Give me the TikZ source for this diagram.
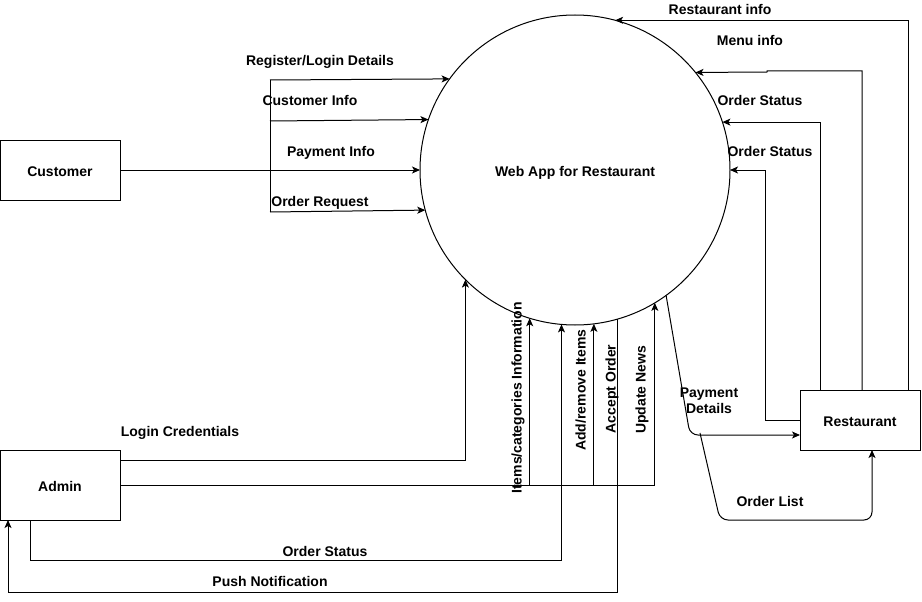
\documentclass[tikz,border=0pt]{standalone}
\usepackage{fontspec}
\setmainfont{Liberation Sans}
\usetikzlibrary{arrows.meta}
\begin{document}
\begin{tikzpicture}[x=1pt,y=-1pt,
  every node/.style={font=\fontsize{14}{16}\selectfont\bfseries,text height=12pt,text depth=0pt},
  entity/.style={draw,line width=1pt,minimum width=120pt,minimum height=60pt,inner sep=0pt,outer sep=0pt},
  proc/.style={draw,line width=1pt,circle,minimum size=310pt,inner sep=0pt,outer sep=0pt},
  flow/.style={line width=1pt,-{Stealth[length=8pt,width=7pt,inset=2pt]}},
  wire/.style={line width=1pt},
  lbl/.style={inner sep=1pt}]
\useasboundingbox (0,0) rectangle (922,602);
\node[proc] (app) at (575,170) {Web App for Restaurant};
\node[entity] (customer) at (60,170) {Customer};
\node[entity,minimum height=70pt] (admin) at (60,485) {Admin};
\node[entity] (restaurant) at (860,420) {Restaurant};

% customer side
\coordinate (ct) at (270,80);
\coordinate (cm) at (270,121);
\coordinate (cb) at (270,212);
\draw[flow] (customer.east) -- (app.west);
\draw[wire] (ct) -- (cb);
\draw[flow] (ct) -- (app.144.51);
\draw[flow] (cm) -- (app.161.57);
\draw[flow] (cb) -- (app.195.72);
\node[lbl] (l1) at (320,60) {Register/Login Details};
\node[lbl] (l2) at (310,100) {Customer Info};
\node[lbl] (l3) at (331,150) {Payment Info};
\node[lbl] (l4) at (320,200) {Order Request};

% restaurant side
\draw[flow] ([xshift=48pt]restaurant.north) |- (app.75.42);
\coordinate (mk1) at (767,71);
\coordinate (mk2) at (767,72);
\draw[flow] ([xshift=2pt]restaurant.north) |- (mk1) -- (mk2) -- (app.39.22);
\draw[flow] ([xshift=-40pt]restaurant.north) |- (app.18.04);
\coordinate (os2) at (765,420);
\draw[flow] (restaurant.west) -- (os2) |- (app.east);
\node[lbl] (l5) at (720,9) {Restaurant info};
\node[lbl] (l6) at (750,40) {Menu info};
\node[lbl] (l7) at (760,100) {Order Status};
\node[lbl] (l8) at (770,150) {Order Status};

% payment details / order list
\coordinate (pd1) at (690,435);
\coordinate (ol0) at (700,433);
\coordinate (ol1) at (720,520);
\draw[flow,rounded corners=8pt] (app.-54.7) -- (pd1) -- (restaurant.west |- pd1);
\draw[flow,rounded corners=8pt] (ol0) -- (ol1) -| ([xshift=12pt]restaurant.south);
\node[lbl,align=center,text height=,text depth=] (l9) at (709,401) {Payment\\Details};
\node[lbl] (l10) at (770,500) {Order List};

% admin side
\draw[flow] ([yshift=25pt]admin.east) -| (app.225.32);
\draw[flow] (admin.east) -| (app.301.94);
\draw[flow] (app.253.51 |- admin.east) -- (app.253.51);
\draw[flow] (app.277.04 |- admin.east) -- (app.277.04);
\draw[flow] ([xshift=-30pt]admin.south) -- ++(0,40) -| (app.265.19);
\coordinate (pn) at (8,592);
\draw[flow] (app.286.88) |- (pn) -- ([xshift=-52pt]admin.south);
\node[lbl] (l11) at (180,430) {Login Credentials};
\node[lbl] (l12) at (325,550) {Order Status};
\node[lbl] (l13) at (270,580) {Push Notification};
\node[lbl,rotate=90] (l14) at (515.5,398) {Items/categories Information};
\node[lbl,rotate=90] (l15) at (579.5,390) {Add/remove Items};
\node[lbl,rotate=90] (l16) at (609.5,389) {Accept Order};
\node[lbl,rotate=90] (l17) at (639.5,390) {Update News};
\end{tikzpicture}
\end{document}
